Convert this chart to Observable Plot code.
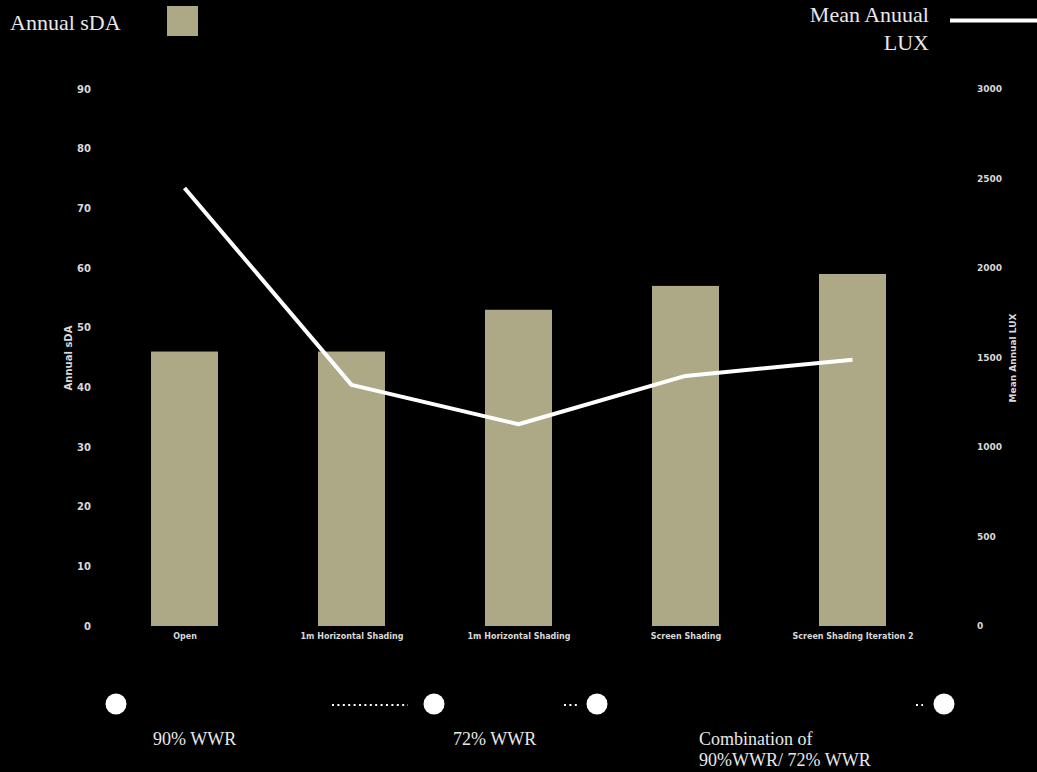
<!DOCTYPE html>
<html>
<head>
<meta charset="utf-8">
<script src="https://cdn.jsdelivr.net/npm/d3@7"></script>
<script src="https://cdn.jsdelivr.net/npm/@observablehq/plot@0.6"></script>
<style>
  html, body { margin: 0; padding: 0; background: #000; }
  #wrap { position: relative; width: 1037px; height: 772px; background: #000; overflow: hidden; }
  #wrap > svg, #wrap > figure, #wrap > .layer { position: absolute; left: 0; top: 0; margin: 0; }
</style>
</head>
<body>
<div id="wrap"></div>
<script>
// ---- data ----
const categories = ["Open", "1m Horizontal Shading", "1m Horizontal Shading", "Screen Shading", "Screen Shading Iteration 2"];
const sdaValues = [46, 46, 53, 57, 59];
const luxValues = [2450, 1350, 1130, 1400, 1490];
const sdaTicks = [0, 10, 20, 30, 40, 50, 60, 70, 80, 90];
const luxTicks = [0, 500, 1000, 1500, 2000, 2500, 3000];

const rows = categories.map((c, i) => ({i, label: c, sda: sdaValues[i], lux: luxValues[i]}));

const W = 1037, H = 660;
const xScale = {domain: d3.range(categories.length), paddingInner: 0.6, paddingOuter: 0.3};
const common = {
  width: W, height: H,
  marginTop: 89, marginBottom: 34, marginLeft: 100.5, marginRight: 101.5,
  style: {background: "transparent", color: "#d8d8d8", fontFamily: "'DejaVu Sans', Lato, sans-serif", fontSize: "8px", fontWeight: "bold"}
};

const p1 = Plot.plot({
  ...common,
  x: {...xScale},
  y: {domain: [0, 90]},
  marks: [
    Plot.barY(rows, {x: "i", y: "sda", fill: "#ada886"}),
    Plot.axisX({tickFormat: i => categories[i], tickSize: 0, tickPadding: 7, label: null}),
    Plot.axisY({ticks: sdaTicks, tickSize: 0, tickPadding: 10, label: "Annual sDA", labelAnchor: "center", labelArrow: "none", labelOffset: 36, fontSize: 10})
  ]
});

const p2 = Plot.plot({
  ...common,
  x: {...xScale, axis: null},
  y: {domain: [0, 3000]},
  marks: [
    Plot.lineY(rows, {x: "i", y: "lux", stroke: "#ffffff", strokeWidth: 4, strokeLinejoin: "miter", strokeLinecap: "butt"}),
    Plot.axisY({anchor: "right", ticks: luxTicks, tickFormat: d => String(d), tickSize: 0, tickPadding: 41, label: "Mean Annual LUX", labelAnchor: "center", labelArrow: "none", labelOffset: 80, fontSize: 9})
  ]
});

const wrap = document.getElementById("wrap");
wrap.appendChild(p1);
wrap.appendChild(p2);

// ---- legends and annotations ----
const NS = "http://www.w3.org/2000/svg";
const deco = document.createElementNS(NS, "svg");
deco.setAttribute("width", W);
deco.setAttribute("height", 772);
deco.setAttribute("class", "layer");
deco.style.pointerEvents = "none";
const serif = "'Liberation Serif', 'DejaVu Serif', serif";
function el(tag, attrs, text) {
  const e = document.createElementNS(NS, tag);
  for (const k in attrs) e.setAttribute(k, attrs[k]);
  if (text != null) e.textContent = text;
  deco.appendChild(e);
  return e;
}
// top-left legend
el("text", {x: 10, y: 30, fill: "#e8e8e8", "font-family": serif, "font-size": 22}, "Annual sDA");
el("rect", {x: 167, y: 6, width: 31, height: 30, fill: "#ada886"});
// top-right legend
el("text", {x: 929, y: 22, fill: "#e8e8e8", "font-family": serif, "font-size": 22, "text-anchor": "end"}, "Mean Anuual");
el("text", {x: 929, y: 50, fill: "#e8e8e8", "font-family": serif, "font-size": 22, "text-anchor": "end"}, "LUX");
el("line", {x1: 950, x2: 1040, y1: 20.5, y2: 20.5, stroke: "#fff", "stroke-width": 4});
// bottom circles & dotted connectors
[[116, 704], [434, 704], [597, 704], [944, 704]].forEach(([cx, cy]) => el("circle", {cx, cy, r: 10.5, fill: "#fff"}));
[[332, 408], [564, 577], [916, 923]].forEach(([a, b]) => el("line", {x1: a, x2: b, y1: 705, y2: 705, stroke: "#fff", "stroke-width": 2, "stroke-dasharray": "2 3.4"}));
// bottom labels
el("text", {x: 153, y: 745, fill: "#e8e8e8", "font-family": serif, "font-size": 18}, "90% WWR");
el("text", {x: 453, y: 745, fill: "#e8e8e8", "font-family": serif, "font-size": 18}, "72% WWR");
el("text", {x: 699, y: 745, fill: "#e8e8e8", "font-family": serif, "font-size": 18}, "Combination of");
el("text", {x: 699, y: 766, fill: "#e8e8e8", "font-family": serif, "font-size": 18}, "90%WWR/ 72% WWR");
wrap.appendChild(deco);
</script>
</body>
</html>
